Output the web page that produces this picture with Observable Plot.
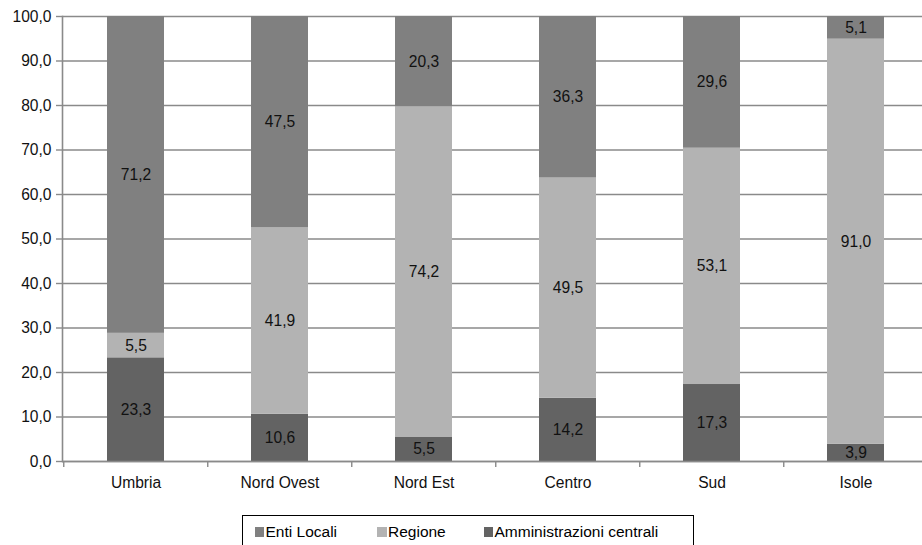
<!DOCTYPE html>
<html>
<head>
<meta charset="utf-8">
<script src="https://cdn.jsdelivr.net/npm/d3@7"></script>
<script src="https://cdn.jsdelivr.net/npm/@observablehq/plot@0.6"></script>
<style>
  html, body { margin: 0; padding: 0; background: #fff; overflow: hidden; }
  body { width: 922px; height: 545px; position: relative; font-family: "Liberation Sans", Arial, sans-serif; }
  #legend { position: absolute; left: 242px; top: 515px; width: 452px; height: 40px; border: 1.5px solid #000; box-sizing: border-box;
            font-size: 15.5px; color: #000; }
  #legend .item { position: absolute; top: 7px; display: flex; align-items: center; white-space: nowrap; line-height: normal; }
  #legend .sw { width: 9.5px; height: 9.5px; margin-right: 1.5px; display: inline-block; }
</style>
</head>
<body>
<div id="chart"></div>
<div id="legend"></div>
<script>
const categories = ["Umbria", "Nord Ovest", "Nord Est", "Centro", "Sud", "Isole"];
const series = ["Amministrazioni centrali", "Regione", "Enti Locali"];
const amministrazioniCentrali = [23.3, 10.6, 5.5, 14.2, 17.3, 3.9];
const regione = [5.5, 41.9, 74.2, 49.5, 53.1, 91.0];
const entiLocali = [71.2, 47.5, 20.3, 36.3, 29.6, 5.1];
const colors = ["#636363", "#b3b3b3", "#808080"];
const yTicks = [0, 10, 20, 30, 40, 50, 60, 70, 80, 90, 100];
const legendOrder = ["Enti Locali", "Regione", "Amministrazioni centrali"];

const valuesBySeries = [amministrazioniCentrali, regione, entiLocali];
const data = [];
categories.forEach((c, i) => {
  series.forEach((s, j) => data.push({category: c, series: s, value: valuesBySeries[j][i]}));
});

const fmt = d => d.toFixed(1).replace(".", ",");
const W = 922, ML = 62, MR = -7;
const step = (W - ML - MR) / categories.length;
const FS = 15.6;

const chart = Plot.plot({
  width: W,
  height: 505,
  marginLeft: ML,
  marginRight: MR,
  marginTop: 16,
  marginBottom: 44,
  style: {fontFamily: "'Liberation Sans', Arial, sans-serif", fontSize: FS + "px", color: "#000", background: "#fff"},
  x: {domain: categories, paddingInner: 0.605, paddingOuter: 0.3025, label: null},
  y: {domain: [0, 100], label: null},
  color: {domain: series, range: colors},
  marks: [
    Plot.gridY(yTicks, {stroke: "#8a8a8a", strokeOpacity: 1, strokeWidth: 1.4}),
    Plot.barY(data, Plot.stackY({x: "category", y: "value", z: "series", fill: "series"})),
    Plot.text(data, Plot.stackY({x: "category", y: "value", z: "series", text: d => fmt(d.value), fill: "#111", fontSize: FS})),
    Plot.ruleY([0], {stroke: "#8a8a8a", strokeWidth: 1.6}),
    Plot.frame({anchor: "left", stroke: "#8a8a8a", strokeWidth: 1.6}),
    Plot.ruleX(categories, {x: d => d, y1: 0, y2: 0, insetBottom: -6, dx: -step / 2, stroke: "#8a8a8a", strokeWidth: 1.4}),
    Plot.axisY(yTicks, {tickFormat: fmt, tickSize: 6, tickPadding: 5, stroke: "#8a8a8a", strokeWidth: 1.4, fill: "#111", fontSize: FS}),
    Plot.axisX({tickSize: 0, tickPadding: 15.5, fill: "#111", fontSize: FS})
  ]
});
document.getElementById("chart").appendChild(chart);

const legend = document.getElementById("legend");
const pos = [11.5, 134, 240.5];
legendOrder.forEach((s, i) => {
  const it = document.createElement("div");
  it.className = "item";
  it.style.left = pos[i] + "px";
  const sw = document.createElement("span");
  sw.className = "sw";
  sw.style.background = colors[series.indexOf(s)];
  it.appendChild(sw);
  it.appendChild(document.createTextNode(s));
  legend.appendChild(it);
});
</script>
</body>
</html>
